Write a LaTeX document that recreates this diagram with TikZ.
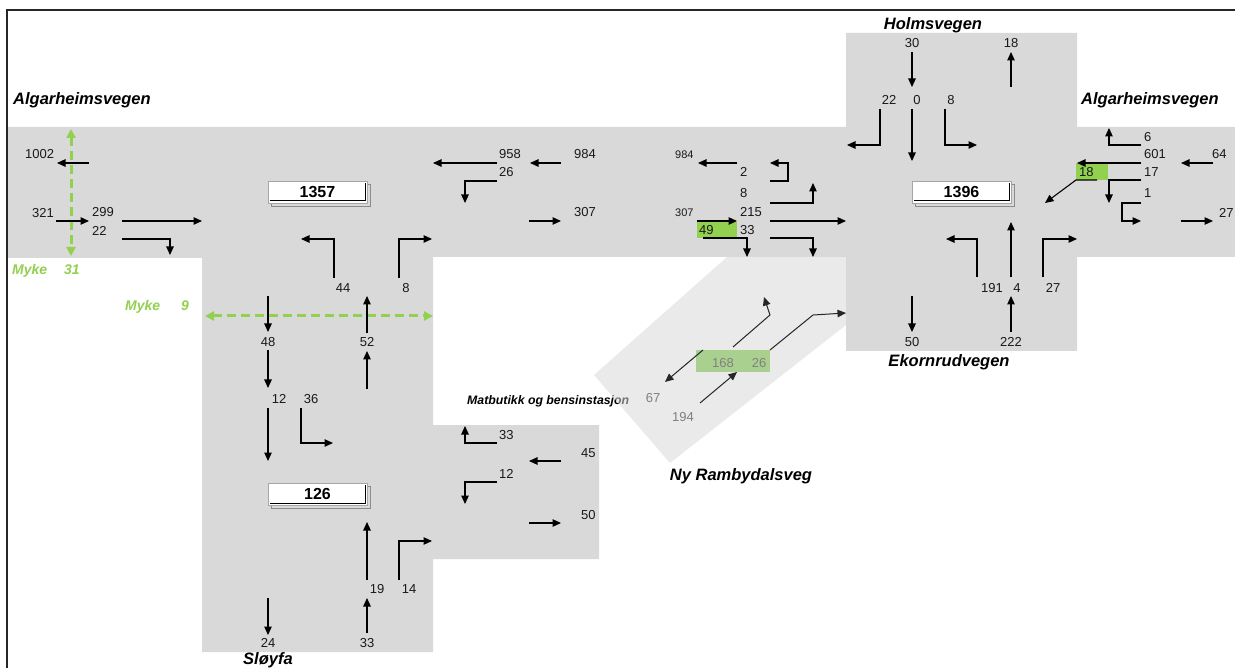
\documentclass[tikz,border=0pt]{standalone}
\usepackage{fontspec}
\setmainfont{Liberation Sans}
\usetikzlibrary{arrows.meta}
\definecolor{roadgray}{RGB}{217,217,217}
\definecolor{rampgray}{RGB}{217,217,217}
\definecolor{mykegreen}{RGB}{146,208,80}
\definecolor{lightgreen}{RGB}{169,208,142}
\definecolor{numgray}{RGB}{128,128,128}
\tikzset{
  num/.style={inner sep=0pt, font=\fontsize{13}{13}\selectfont, text=black!90},
  numw/.style={num, anchor=west},
  smallnum/.style={inner sep=0pt, anchor=west, font=\fontsize{11}{11}\selectfont, text=black!90},
  rampnum/.style={num, text=numgray},
  road/.style={inner sep=0pt, font=\fontsize{16.5}{16.5}\bfseries\itshape\selectfont},
  myke/.style={inner sep=0pt, anchor=base west, text=mykegreen, font=\fontsize{14}{14}\bfseries\itshape\selectfont},
  arr/.style={-{Triangle[length=8.5pt,width=7.5pt]}, line width=1.1pt, black},
  dasharr/.style={{Triangle[length=9pt,width=9pt]}-{Triangle[length=9pt,width=9pt]}, line width=3pt, mykegreen, dash pattern=on 9pt off 5pt},
  totalnum/.style={inner sep=0pt, font=\fontsize{16}{16}\bfseries\selectfont}
}
\begin{document}
\begin{tikzpicture}[x=1pt,y=-1pt]
\useasboundingbox (0,0) rectangle (1235,668);
\fill[white] (0,0) rectangle (1235,668);
% road areas
\fill[roadgray] (8,127) -- (846,127) -- (846,33) -- (1077,33) -- (1077,127) -- (1235,127)
  -- (1235,257) -- (1077,257) -- (1077,351) -- (846,351) -- (846,257) -- (433,257)
  -- (433,425) -- (599,425) -- (599,559) -- (433,559) -- (433,652) -- (202,652)
  -- (202,258) -- (8,258) -- cycle;
% label under ramp
\node[inner sep=0pt, anchor=base west, font=\fontsize{12.3}{12.3}\bfseries\itshape\selectfont] (matbutikk) at (467,404) {Matbutikk og bensinstasjon};
% ramp
\fill[rampgray, fill opacity=0.53] (594,375) -- (727,257) -- (846,257) -- (846,325) -- (670,463) -- cycle;
% green boxes
\fill[mykegreen] (697,222) rectangle (737,238);
\fill[mykegreen] (1076,163) rectangle (1108,180);
\fill[lightgreen] (696,350) rectangle (770,372);
% frame
\draw[line width=2pt, black!85] (7,668) -- (7,10) -- (1235,10);
% total boxes
\foreach \nm/\x/\y/\t in {tA/268/181/1357, tB/268/483/126, tC/912/181/1396}{
  \draw[gray!90, line width=0.9pt] (\x+3,\y+3) rectangle (\x+102,\y+25);
  \draw[fill=white, draw=gray!70, line width=0.9pt] (\x,\y) rectangle (\x+99,\y+22);
  \draw[black, line width=1pt] (\x+97,\y+2) -- (\x+97,\y+20) -- (\x+2,\y+20);
  \node[totalnum] (\nm) at (\x+49.5,\y+11) {\t};
}
% soft traffic
\draw[dasharr] (71,129) -- (71,256);
\draw[dasharr] (205,316) -- (433,316);
\node[myke] (myke1) at (12,275) {Myke};
\node[myke] (myke1n) at (64,275) {31};
\node[myke] (myke2) at (125,311) {Myke};
\node[myke] (myke2n) at (181,311) {9};
% road names
\node[road, anchor=base west] (algL) at (13,105) {Algarheimsvegen};
\node[road, anchor=base] (holm) at (933,30) {Holmsvegen};
\node[road, anchor=base west] (algR) at (1081,105) {Algarheimsvegen};
\node[road, anchor=base] (ekorn) at (949,367) {Ekornrudvegen};
\node[road, anchor=base] (ramby) at (741,480) {Ny Rambydalsveg};
\node[road, anchor=base] (sloyfa) at (268,664) {Sløyfa};
% ---- left
\draw[arr] (89,163) -- (57,163);
\draw[arr] (56,221) -- (89,221);
\draw[arr] (122,221) -- (202,221);
\draw[arr] (122,239) -| (170,255);
\node[numw] (n1002) at (25,154) {1002};
\node[numw] (n321) at (32,213) {321};
\node[numw] (n299) at (92,212) {299};
\node[numw] (n22a) at (92,231) {22};
% ---- middle vertical
\draw[arr] (334,278) |- (301,239);
\draw[arr] (399,278) |- (432,239);
\draw[arr] (268,296) -- (268,332);
\draw[arr] (268,350) -- (268,388);
\draw[arr] (268,408) -- (268,461);
\draw[arr] (301,408) |- (333,443);
\draw[arr] (367,333) -- (367,296);
\draw[arr] (367,389) -- (367,351);
\draw[arr] (367,580) -- (367,522);
\draw[arr] (399,580) |- (432,541);
\draw[arr] (367,633) -- (367,598);
\draw[arr] (268,598) -- (268,635);
\node[num] (n44) at (343,288) {44};
\node[num] (n8a) at (406,288) {8};
\node[num] (n48) at (268,342) {48};
\node[num] (n52) at (367,342) {52};
\node[num] (n12a) at (279,399) {12};
\node[num] (n36) at (311,399) {36};
\node[num] (n19) at (377,589) {19};
\node[num] (n14) at (409,589) {14};
\node[num] (n24) at (268,643) {24};
\node[num] (n33a) at (367,643) {33};
% ---- top middle
\draw[arr] (561,163) -- (530,163);
\draw[arr] (497,163) -- (433,163);
\draw[arr] (497,181) -| (465,203);
\draw[arr] (529,221) -- (561,221);
\node[numw] (n958) at (499,154) {958};
\node[numw] (n26a) at (499,172) {26};
\node[numw] (n984a) at (574,154) {984};
\node[numw] (n307a) at (574,212) {307};
% ---- lower box
\draw[arr] (497,443) -| (465,426);
\draw[arr] (561,461) -- (529,461);
\draw[arr] (497,482) -| (465,504);
\draw[arr] (529,523) -- (561,523);
\node[numw] (n33b) at (499,435) {33};
\node[numw] (n12b) at (499,474) {12};
\node[numw] (n45) at (581,453) {45};
\node[numw] (n50a) at (581,515) {50};
% ---- west approach of right intersection
\draw[arr] (737,163) -- (698,163);
\draw[arr] (770,181) -- (788,181) -- (788,163) -- (770,163);
\draw[arr] (770,203) -| (813,183);
\draw[arr] (770,221) -- (846,221);
\draw[arr] (697,221) -- (737,221);
\draw[arr] (703,238) -| (747,257);
\draw[arr] (770,238) -| (813,257);
\node[smallnum] (n984b) at (675,155) {984};
\node[smallnum] (n307b) at (675,213) {307};
\node[numw] (n2) at (740,172) {2};
\node[numw] (n8b) at (740,193) {8};
\node[numw] (n215) at (740,212) {215};
\node[numw] (n33c) at (740,230) {33};
\node[numw] (n49) at (699,230) {49};
% ---- ramp
\draw[arr, line width=1pt, black!85] (703,350) -- (665,382);
\draw[arr, line width=1pt, black!85] (733,347) -- (770,315) -- (764,297);
\draw[arr, line width=1pt, black!85] (700,403) -- (737,372);
\draw[arr, line width=1pt, black!85] (770,350) -- (813,315) -- (846,313);
\node[rampnum] (n168) at (723,363) {168};
\node[rampnum] (n26b) at (759,363) {26};
\node[rampnum] (n67) at (653,398) {67};
\node[rampnum] (n194) at (683,417) {194};
% ---- Holmsvegen
\draw[arr] (912,52) -- (912,87);
\draw[arr] (1011,87) -- (1011,52);
\draw[arr] (880,109) |- (847,145);
\draw[arr] (912,109) -- (912,161);
\draw[arr] (945,109) |- (977,145);
\node[num] (n30) at (912,43) {30};
\node[num] (n18a) at (1011,43) {18};
\node[num] (n22b) at (889,100) {22};
\node[num] (n0) at (917,100) {0};
\node[num] (n8c) at (951,100) {8};
% ---- Ekornrudvegen
\draw[arr] (977,277) |- (946,239);
\draw[arr] (1011,277) -- (1011,222);
\draw[arr] (1043,277) |- (1077,239);
\draw[arr] (1011,332) -- (1011,296);
\draw[arr] (912,296) -- (912,332);
\node[num] (n191) at (992,288) {191};
\node[num] (n4) at (1017,288) {4};
\node[num] (n27a) at (1053,288) {27};
\node[num] (n50b) at (912,342) {50};
\node[num] (n222) at (1011,342) {222};
% ---- east Algarheimsvegen
\draw[arr] (1097,180) -- (1076,180) -- (1045,203);
\draw[arr] (1141,145) -| (1109,128);
\draw[arr] (1141,163) -- (1077,163);
\draw[arr] (1213,163) -- (1181,163);
\draw[arr] (1141,180) -| (1109,203);
\draw[arr] (1141,203) -- (1122,203) -- (1122,221) -- (1141,221);
\draw[arr] (1181,221) -- (1213,221);
\node[numw] (n6) at (1144,137) {6};
\node[numw] (n601) at (1144,154) {601};
\node[numw] (n17) at (1144,172) {17};
\node[numw] (n1) at (1144,193) {1};
\node[numw] (n18b) at (1079,172) {18};
\node[numw] (n64) at (1212,154) {64};
\node[numw] (n27b) at (1219,213) {27};
\end{tikzpicture}
\end{document}
